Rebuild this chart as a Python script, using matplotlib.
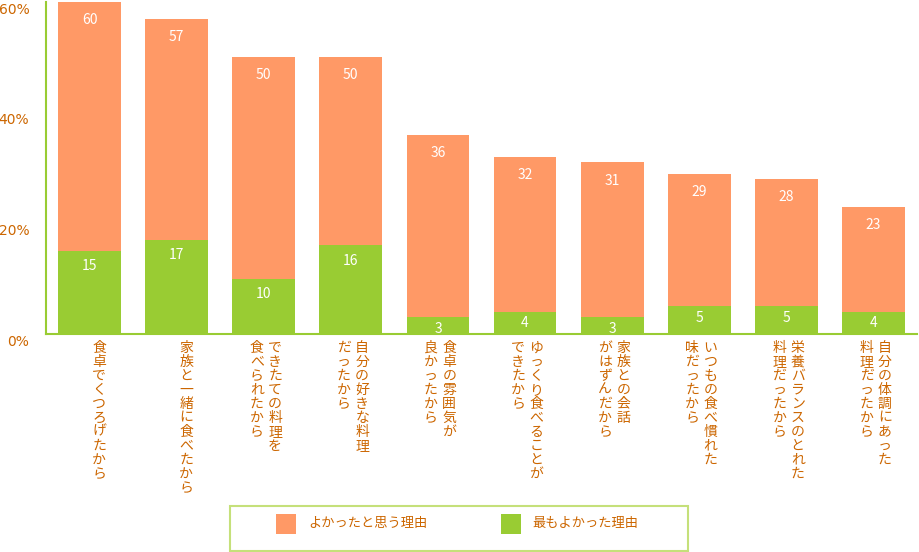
import matplotlib
matplotlib.use("Agg")
import matplotlib.pyplot as plt
from matplotlib.patches import Rectangle
import matplotlib.transforms as mtransforms

plt.rcParams['font.family'] = 'Noto Sans CJK JP'

categories = [["食卓でくつろげたから"], ["家族と一緒に食べたから"], ["できたての料理を", "食べられたから"],
              ["自分の好きな料理", "だったから"], ["食卓の雰囲気が", "良かったから"], ["ゆっくり食べることが", "できたから"],
              ["家族との会話", "がはずんだから"], ["いつもの食べ慣れた", "味だったから"], ["栄養バランスのとれた", "料理だったから"],
              ["自分の体調にあった", "料理だったから"]]
good_reason = [60, 57, 50, 50, 36, 32, 31, 29, 28, 23]
best_reason = [15, 17, 10, 16, 3, 4, 3, 5, 5, 4]
yticks = [0, 20, 40, 60]
legend_labels = ["よかったと思う理由", "最もよかった理由"]

ORANGE = '#ff9966'
GREEN = '#99cc33'
TXT = '#cc6600'

fig = plt.figure(figsize=(9.19, 5.52), dpi=100)
ax = fig.add_axes([46/919, 218/552, 871/919, 332/552])
x = list(range(len(categories)))
ax.bar(x, good_reason, width=0.72, color=ORANGE, zorder=2)
ax.bar(x, best_reason, width=0.72, color=GREEN, zorder=3)
for i in x:
    ax.annotate(str(good_reason[i]), (i, good_reason[i]), xytext=(0, -8), textcoords='offset points',
                ha='center', va='top', color='white', fontsize=10, zorder=4)
    ax.annotate(str(best_reason[i]), (i, best_reason[i]), xytext=(0, -6 if best_reason[i] > 5 else -3),
                textcoords='offset points', ha='center', va='top', color='white', fontsize=10, zorder=4)
ax.set_xlim(-0.5, 9.5)
ax.set_ylim(0, 60)
for s in ['top', 'right']:
    ax.spines[s].set_visible(False)
for s in ['left', 'bottom']:
    ax.spines[s].set_color(GREEN)
    ax.spines[s].set_linewidth(1.5)
ax.set_xticks([])
ax.set_yticks(yticks)
ax.set_yticklabels([f"{v}%" for v in yticks], color=TXT, fontsize=10, fontfamily='DejaVu Sans')
ax.tick_params(axis='y', length=0, pad=12)
shift = mtransforms.ScaledTranslation(0, -6/100, fig.dpi_scale_trans)
for lbl in ax.get_yticklabels():
    lbl.set_transform(lbl.get_transform() + shift)

# vertical category labels
for i, lines in enumerate(categories):
    offs = [0.11] if len(lines) == 1 else [0.13, -0.08]
    for line, off in zip(lines, offs):
        ax.text(i + off, -1.2, "\n".join(line), ha='center', va='top', color=TXT,
                fontsize=10, linespacing=1.0, clip_on=False)

# legend box
fig.patches.append(Rectangle((230/919, 1/552), 458/919, 45/552, transform=fig.transFigure,
                             fill=False, edgecolor='#c5e07a', linewidth=1.5))
fig.patches.append(Rectangle((276/919, 18/552), 20/919, 20/552, transform=fig.transFigure,
                             facecolor=ORANGE, edgecolor='none'))
fig.text(308/919, 28/552, legend_labels[0], color=TXT, fontsize=9.5, va='center')
fig.patches.append(Rectangle((501/919, 18/552), 20/919, 20/552, transform=fig.transFigure,
                             facecolor=GREEN, edgecolor='none'))
fig.text(532/919, 28/552, legend_labels[1], color=TXT, fontsize=9.5, va='center')

fig.savefig('out.png', dpi=100)
